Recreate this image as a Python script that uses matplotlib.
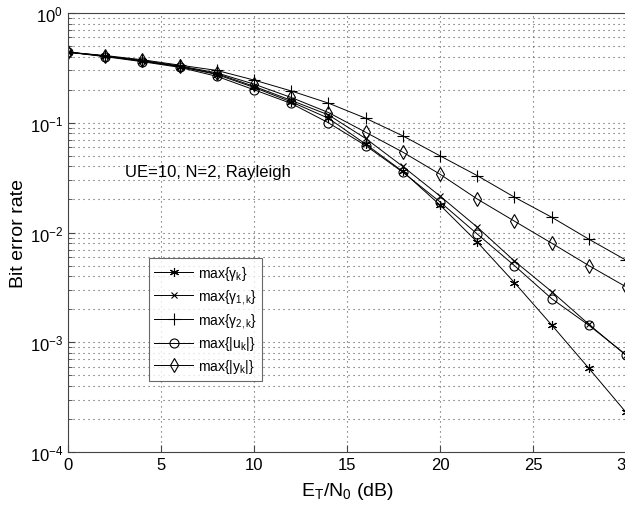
import numpy as np
import matplotlib.pyplot as plt

plt.rcParams['font.family'] = ['Liberation Sans', 'DejaVu Sans']
plt.rcParams['mathtext.fontset'] = 'custom'
plt.rcParams['mathtext.rm'] = 'Liberation Sans'
plt.rcParams['mathtext.it'] = 'Liberation Sans'

snr = [0, 2, 4, 6, 8, 10, 12, 14, 16, 18, 20, 22, 24, 26, 28, 30]

ber_gamma = [0.44, 0.405, 0.365, 0.325, 0.275, 0.21, 0.155, 0.11, 0.064, 0.036,
             0.0178, 0.0082, 0.0035, 0.00144, 0.00058, 0.00023]
ber_gamma1 = [0.44, 0.405, 0.365, 0.325, 0.28, 0.215, 0.16, 0.118, 0.072, 0.040,
              0.0215, 0.0112, 0.0055, 0.0029, 0.00146, 0.00076]
ber_gamma2 = [0.44, 0.41, 0.375, 0.335, 0.30, 0.245, 0.195, 0.151, 0.11, 0.076,
              0.050, 0.033, 0.021, 0.0138, 0.0087, 0.0056]
ber_u = [0.44, 0.40, 0.36, 0.32, 0.265, 0.20, 0.15, 0.10, 0.062, 0.0355,
         0.019, 0.0097, 0.0050, 0.0025, 0.00143, 0.00077]
ber_y = [0.44, 0.405, 0.37, 0.33, 0.285, 0.225, 0.17, 0.124, 0.082, 0.054,
         0.034, 0.0202, 0.0127, 0.0080, 0.0050, 0.0032]

labels = [r'max{$\gamma_k$}', r'max{$\gamma_{1,k}$}', r'max{$\gamma_{2,k}$}',
          r'max{|u$_k$|}', r'max{|y$_k$|}']

fig = plt.figure(figsize=(6.25, 5.06), dpi=100)
ax = fig.add_axes([0.1088, 0.1047, 0.8928, 0.8676])

style = dict(color='black', lw=0.7, markersize=6.5, markerfacecolor='none',
             markeredgewidth=0.8)
ax.semilogy(snr, ber_gamma, marker=(6, 2, 0), label=labels[0], **style)
ax.semilogy(snr, ber_gamma1, marker='x', label=labels[1], **dict(style, markersize=5))
ax.semilogy(snr, ber_gamma2, marker='+', label=labels[2], **dict(style, markersize=8))
ax.semilogy(snr, ber_u, marker='o', label=labels[3], **style)
ax.semilogy(snr, ber_y, marker='d', label=labels[4], **dict(style, markersize=7))

ax.set_xlim(0, 30)
ax.set_ylim(1e-4, 1)
ax.set_xticks([0, 5, 10, 15, 20, 25, 30])
grid = dict(ls=(0, (1, 3.5)), color='#555555', lw=0.8)
ax.grid(True, which='major', axis='x', **grid)
ax.grid(True, which='both', axis='y', **grid)
ax.tick_params(which='both', direction='in', labelsize=12, color='#444444')
ax.tick_params(which='major', length=5)
ax.tick_params(which='minor', length=3)
for s in ax.spines.values():
    s.set_color('#444444')

ax.set_xlabel(r'E$_\mathrm{T}$/N$_0$ (dB)', fontsize=14, labelpad=6)
ax.set_ylabel('Bit error rate', fontsize=14, labelpad=2)
ax.text(3.05, 0.036, 'UE=10, N=2, Rayleigh', fontsize=12, va='center')

leg = ax.legend(loc='lower left', bbox_to_anchor=(0.145, 0.162), fontsize=10,
                frameon=True, fancybox=False, edgecolor='#444444',
                handlelength=2.8, borderpad=0.4, labelspacing=0.35,
                handletextpad=0.3, borderaxespad=0)
leg.get_frame().set_linewidth(0.8)

fig.savefig('out.png', dpi=100)
